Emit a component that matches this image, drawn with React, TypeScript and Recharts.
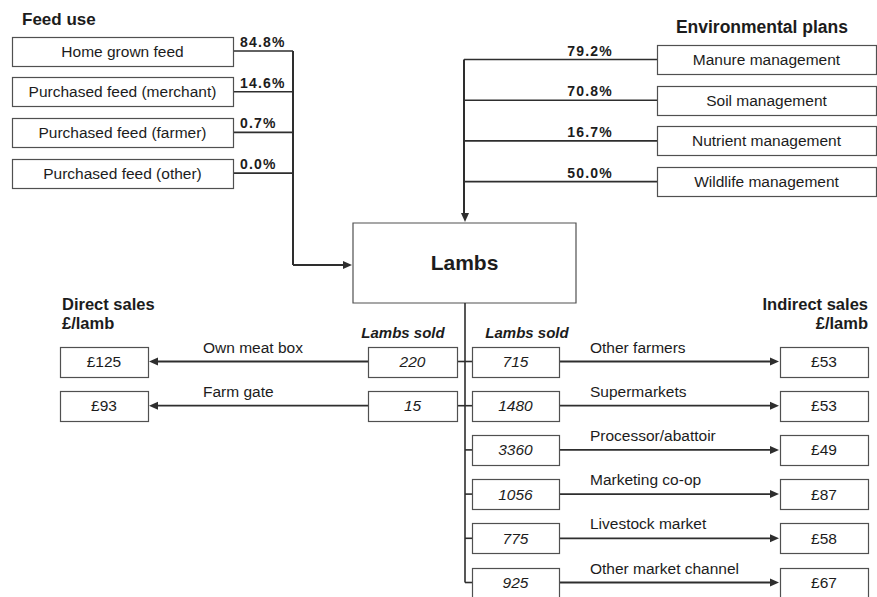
import React from "react";
import {
  ScatterChart,
  Scatter,
  XAxis,
  YAxis,
  ReferenceLine,
  ReferenceArea,
} from "recharts";

// ---- data ----
const feedSources = [
  "Home grown feed",
  "Purchased feed (merchant)",
  "Purchased feed (farmer)",
  "Purchased feed (other)",
];
const feedShares = ["84.8%", "14.6%", "0.7%", "0.0%"];

const envPlans = [
  "Manure management",
  "Soil management",
  "Nutrient management",
  "Wildlife management",
];
const envShares = ["79.2%", "70.8%", "16.7%", "50.0%"];

const directChannels = ["Own meat box", "Farm gate"];
const directLambsSold = [220, 15];
const directPrices = [125, 93];

const indirectChannels = [
  "Other farmers",
  "Supermarkets",
  "Processor/abattoir",
  "Marketing co-op",
  "Livestock market",
  "Other market channel",
];
const indirectLambsSold = [715, 1480, 3360, 1056, 775, 925];
const indirectPrices = [53, 53, 49, 87, 58, 67];

// ---- layout (chart units == px, axes are hidden identity scales) ----
const W = 877;
const H = 597;
const FONT = "'Liberation Sans', Arial, sans-serif";
const INK = "#1c1c1c";
const LINE = "#2e2e2e";
const BOX = "#505050";

const FEED = { x1: 12, x2: 233, y0: 51, dy: 40.7, h: 29, spine: 293, pctX: 240 };
const ENV = { x1: 657, x2: 876, y0: 59.5, dy: 40.7, h: 29, spine: 464, pctX: 613 };
const LAMBS = { x1: 353, x2: 576, y1: 223, y2: 303 };
const SALES = {
  y0: 361.5,
  dy: 44.2,
  h: 30,
  spine: 465,
  lPrice: [60, 148],
  lSold: [368, 457],
  rSold: [472, 559],
  rPrice: [780, 868],
};

const feedRows = feedSources.map((label, i) => ({
  x: (FEED.x1 + FEED.x2) / 2,
  y: FEED.y0 + i * FEED.dy,
  label,
  share: feedShares[i],
}));
const envRows = envPlans.map((label, i) => ({
  x: (ENV.x1 + ENV.x2) / 2,
  y: ENV.y0 + i * ENV.dy,
  label,
  share: envShares[i],
}));
const directRows = directChannels.map((label, i) => ({
  x: SALES.spine,
  y: SALES.y0 + i * SALES.dy,
  label,
  sold: directLambsSold[i],
  price: directPrices[i],
}));
const indirectRows = indirectChannels.map((label, i) => ({
  x: SALES.spine,
  y: SALES.y0 + i * SALES.dy,
  label,
  sold: indirectLambsSold[i],
  price: indirectPrices[i],
}));

const txt = { fontFamily: FONT, fill: INK };

function Box({ x1, x2, cy, h, children, italic }: any) {
  return (
    <g>
      <rect
        x={x1 + 0.5}
        y={Math.round(cy - h / 2) + 0.5}
        width={x2 - x1}
        height={h}
        fill="#fff"
        stroke={BOX}
        strokeWidth={1.2}
      />
      <text
        x={(x1 + x2) / 2}
        y={cy + 5.5}
        textAnchor="middle"
        fontSize={15.5}
        fontStyle={italic ? "italic" : "normal"}
        {...txt}
      >
        {children}
      </text>
    </g>
  );
}

function Arrow({ x, y, dir }: { x: number; y: number; dir: string }) {
  const L = 9;
  const S = 4;
  let pts = "";
  if (dir === "right") pts = `${x},${y} ${x - L},${y - S} ${x - L},${y + S}`;
  if (dir === "left") pts = `${x},${y} ${x + L},${y - S} ${x + L},${y + S}`;
  if (dir === "down") pts = `${x},${y} ${x - S},${y - L} ${x + S},${y - L}`;
  return <polygon points={pts} fill={LINE} />;
}

const FeedRow = (p: any) => {
  const { cy, payload } = p;
  return (
    <g>
      <line x1={FEED.x2} y1={cy} x2={FEED.spine} y2={cy} stroke={LINE} strokeWidth={1.6} />
      <rect
        x={FEED.x1 + 0.5}
        y={Math.round(cy - FEED.h / 2) + 0.5}
        width={FEED.x2 - FEED.x1}
        height={FEED.h}
        fill="#fff"
        stroke={BOX}
        strokeWidth={1.2}
      />
      <text x={(FEED.x1 + FEED.x2) / 2} y={cy + 5.5} textAnchor="middle" fontSize={15.5} {...txt}>
        {payload.label}
      </text>
      <text x={FEED.pctX} y={cy - 4} fontSize={14} fontWeight="bold" letterSpacing={1.2} {...txt}>
        {payload.share}
      </text>
    </g>
  );
};

const EnvRow = (p: any) => {
  const { cy, payload } = p;
  return (
    <g>
      <line x1={ENV.spine} y1={cy} x2={ENV.x1} y2={cy} stroke={LINE} strokeWidth={1.6} />
      <rect
        x={ENV.x1 + 0.5}
        y={Math.round(cy - ENV.h / 2) + 0.5}
        width={ENV.x2 - ENV.x1}
        height={ENV.h}
        fill="#fff"
        stroke={BOX}
        strokeWidth={1.2}
      />
      <text x={(ENV.x1 + ENV.x2) / 2} y={cy + 5.5} textAnchor="middle" fontSize={15.5} {...txt}>
        {payload.label}
      </text>
      <text x={ENV.pctX} y={cy - 4} textAnchor="end" fontSize={14} fontWeight="bold" letterSpacing={1.2} {...txt}>
        {payload.share}
      </text>
    </g>
  );
};

const DirectRow = (p: any) => {
  const { cy, payload } = p;
  return (
    <g>
      <line x1={SALES.lSold[1]} y1={cy} x2={SALES.spine} y2={cy} stroke={LINE} strokeWidth={1.6} />
      <line x1={SALES.lSold[0]} y1={cy} x2={SALES.lPrice[1] + 6} y2={cy} stroke={LINE} strokeWidth={1.8} />
      <Arrow x={SALES.lPrice[1] + 1} y={cy} dir="left" />
      <Box x1={SALES.lSold[0]} x2={SALES.lSold[1]} cy={cy} h={SALES.h} italic>
        {payload.sold}
      </Box>
      <Box x1={SALES.lPrice[0]} x2={SALES.lPrice[1]} cy={cy} h={SALES.h}>
        {`£${payload.price}`}
      </Box>
      <text x={203} y={cy - 9} fontSize={15.5} {...txt}>
        {payload.label}
      </text>
    </g>
  );
};

const IndirectRow = (p: any) => {
  const { cy, payload } = p;
  return (
    <g>
      <line x1={SALES.spine} y1={cy} x2={SALES.rSold[0]} y2={cy} stroke={LINE} strokeWidth={1.6} />
      <line x1={SALES.rSold[1]} y1={cy} x2={SALES.rPrice[0] - 6} y2={cy} stroke={LINE} strokeWidth={1.8} />
      <Arrow x={SALES.rPrice[0] - 1} y={cy} dir="right" />
      <Box x1={SALES.rSold[0]} x2={SALES.rSold[1]} cy={cy} h={SALES.h} italic>
        {payload.sold}
      </Box>
      <Box x1={SALES.rPrice[0]} x2={SALES.rPrice[1]} cy={cy} h={SALES.h}>
        {`£${payload.price}`}
      </Box>
      <text x={590} y={cy - 9} fontSize={15.5} {...txt}>
        {payload.label}
      </text>
    </g>
  );
};

const Titles = () => (
  <g>
    <text x={22} y={25} fontSize={17} fontWeight="bold" {...txt}>Feed use</text>
    <text x={848} y={33} textAnchor="end" fontSize={17.5} fontWeight="bold" {...txt}>Environmental plans</text>
    <text x={62} y={310} fontSize={16.5} fontWeight="bold" {...txt}>Direct sales</text>
    <text x={62} y={329} fontSize={16.5} fontWeight="bold" {...txt}>£/lamb</text>
    <text x={868} y={310} textAnchor="end" fontSize={16.5} fontWeight="bold" {...txt}>Indirect sales</text>
    <text x={868} y={329} textAnchor="end" fontSize={16.5} fontWeight="bold" {...txt}>£/lamb</text>
    <text x={403} y={338} textAnchor="middle" fontSize={15} fontWeight="bold" fontStyle="italic" {...txt}>Lambs sold</text>
    <text x={527} y={338} textAnchor="middle" fontSize={15} fontWeight="bold" fontStyle="italic" {...txt}>Lambs sold</text>
    <Arrow x={LAMBS.x1 - 1} y={265} dir="right" />
    <Arrow x={ENV.spine + 1} y={LAMBS.y1 - 1} dir="down" />
  </g>
);

const lastSalesY = SALES.y0 + (indirectRows.length - 1) * SALES.dy;

export default function App() {
  return (
    <div style={{ position: "absolute", left: 0, top: 0, background: "#fff" }}>
      <ScatterChart width={W} height={H} margin={{ top: 0, right: 0, bottom: 0, left: 0 }}>
        <XAxis type="number" dataKey="x" domain={[0, W]} allowDataOverflow hide />
        <YAxis type="number" dataKey="y" domain={[0, H]} reversed allowDataOverflow hide />

        {/* feed spine into lambs box */}
        <ReferenceLine
          segment={[{ x: FEED.spine, y: FEED.y0 }, { x: FEED.spine, y: 265 }]}
          stroke={LINE}
          strokeWidth={2}
        />
        <ReferenceLine
          segment={[{ x: FEED.spine, y: 265 }, { x: LAMBS.x1 - 6, y: 265 }]}
          stroke={LINE}
          strokeWidth={2}
        />
        {/* environmental plans spine */}
        <ReferenceLine
          segment={[{ x: ENV.spine, y: ENV.y0 }, { x: ENV.spine, y: LAMBS.y1 - 6 }]}
          stroke={LINE}
          strokeWidth={2}
        />
        {/* sales spine */}
        <ReferenceLine
          segment={[{ x: SALES.spine, y: LAMBS.y2 }, { x: SALES.spine, y: lastSalesY }]}
          stroke={LINE}
          strokeWidth={1.6}
        />

        <ReferenceArea
          x1={LAMBS.x1}
          x2={LAMBS.x2}
          y1={LAMBS.y1}
          y2={LAMBS.y2}
          fill="#fff"
          fillOpacity={1}
          stroke={BOX}
          strokeWidth={1.2}
          label={{
            value: "Lambs",
            position: "center",
            fontSize: 21,
            fontWeight: "bold",
            fill: INK,
            fontFamily: FONT,
          }}
        />

        <Scatter data={feedRows} shape={FeedRow} isAnimationActive={false} />
        <Scatter data={envRows} shape={EnvRow} isAnimationActive={false} />
        <Scatter data={directRows} shape={DirectRow} isAnimationActive={false} />
        <Scatter data={indirectRows} shape={IndirectRow} isAnimationActive={false} />
        <Scatter data={[{ x: 0, y: 0 }]} shape={Titles} isAnimationActive={false} />
      </ScatterChart>
    </div>
  );
}
